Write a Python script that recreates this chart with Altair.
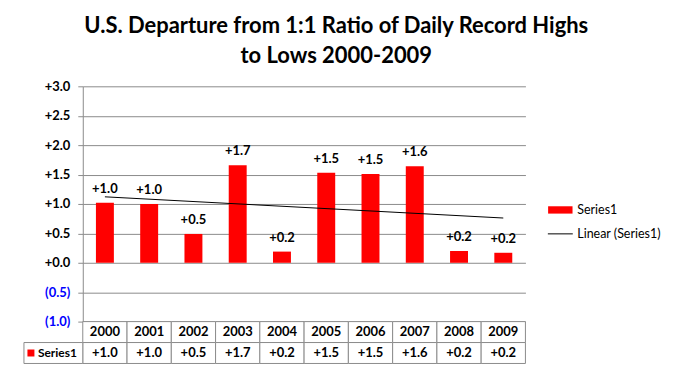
import altair as alt
import pandas as pd

years = ["2000", "2001", "2002", "2003", "2004", "2005", "2006", "2007", "2008", "2009"]
values = [1.02, 1.00, 0.49, 1.66, 0.19, 1.53, 1.51, 1.64, 0.20, 0.17]
series_name = "Series1"
trend_name = "Linear (Series1)"
y_ticks = [-1.0, -0.5, 0.0, 0.5, 1.0, 1.5, 2.0, 2.5, 3.0]
table_rows = ["Year", "Series1"]
title_lines = ["U.S. Departure from 1:1 Ratio of Daily Record Highs", "to Lows 2000-2009"]

FONT = "Lato"
GRID = "#8c8c8c"

df = pd.DataFrame({"year": years, "value": values, "series": series_name, "trend": trend_name})

xscale = alt.Scale(domain=years, paddingInner=0, paddingOuter=0)
x_main = alt.X("year:N", scale=xscale, axis=None)
yscale = alt.Scale(domain=[-1, 3], nice=False, zero=False)

label_expr = ("datum.value < 0 ? '(' + format(-datum.value, '.1f') + ')' "
              ": format(datum.value, '+.1f')")
y_axis = alt.Axis(
    values=y_ticks, labelExpr=label_expr, grid=True, gridColor=GRID,
    domainColor=GRID, tickColor=GRID, tickSize=5, labelFontWeight="bold",
    labelFontSize=13, labelFont=FONT, labelPadding=8, title=None,
    labelOverlap=False, labelBound=False, labelFlush=False,
    labelColor={"condition": {"test": "datum.value < 0", "value": "#0000ff"}, "value": "black"},
)
y_main = alt.Y("value:Q", scale=yscale, axis=y_axis)

base = alt.Chart(df)
bars = base.mark_bar(size=18).encode(
    x=x_main,
    y=y_main,
    fill=alt.Fill("series:N", scale=alt.Scale(domain=[series_name], range=["#ff0000"]),
                  legend=alt.Legend(title=None, orient="none", legendX=466, legendY=111,
                                    symbolType="M-1,-0.3H1V0.3H-1Z", symbolSize=600,
                                    labelFont=FONT, labelFontSize=12.5, labelColor="black")),
)
labels = base.transform_calculate(lbl="format(datum.value, '+.1f')").mark_text(
    baseline="bottom", dy=-7, fontWeight="bold", fontSize=13, font=FONT, color="black"
).encode(x=x_main, y=y_main, text="lbl:N")

trend = base.transform_calculate(yr="toNumber(datum.year)").transform_regression(
    "yr", "value", method="linear"
).transform_filter("datum.yr == floor(datum.yr)").transform_calculate(
    year="toString(datum.yr)", trend=f"'{trend_name}'"
).mark_line(strokeWidth=1).encode(
    x=x_main,
    y=y_main,
    stroke=alt.Stroke("trend:N", scale=alt.Scale(domain=[trend_name], range=["black"]),
                      legend=alt.Legend(title=None, orient="none", legendX=466, legendY=135,
                                        symbolType="stroke", symbolSize=625, symbolStrokeWidth=1,
                                        labelFont=FONT, labelFontSize=12.5, labelColor="black")),
)

main = alt.layer(bars, labels, trend).properties(width=444, height=236)

tdf = pd.DataFrame({
    "year": years * 2,
    "row": ["Year"] * len(years) + ["Series1"] * len(years),
    "txt": years + [f"{v:+.1f}" for v in values],
})
hdf = pd.DataFrame({"row": ["Series1"], "name": [series_name]})

tx = alt.X("year:N", scale=xscale, axis=None)
ty = alt.Y("row:N", scale=alt.Scale(domain=table_rows, paddingInner=0, paddingOuter=0), axis=None)

cells = alt.Chart(tdf).mark_rect(fill="white", stroke=GRID, strokeWidth=1).encode(x=tx, y=ty)
ctext = alt.Chart(tdf).mark_text(fontWeight="bold", fontSize=13, font=FONT, color="black").encode(
    x=tx, y=ty, text="txt:N")
lcell = alt.Chart(hdf).mark_rect(fill="white", stroke=GRID, strokeWidth=1).encode(
    x=alt.value(-59), x2=alt.value(0), y=ty)
lsq = alt.Chart(hdf).mark_square(size=49, color="#ff0000", opacity=1).encode(x=alt.value(-52), y=ty)
ltxt = alt.Chart(hdf).mark_text(align="left", fontSize=12, font=FONT, fontWeight="bold",
                                color="black").encode(x=alt.value(-45), y=ty, text="name:N")

table = alt.layer(cells, ctext, lcell, lsq, ltxt).properties(width=444, height=42)

chart = alt.vconcat(main, table, spacing=0, bounds="flush").properties(
    title=alt.TitleParams(text=title_lines, fontSize=22, font=FONT, fontWeight="bold",
                          anchor="middle", lineHeight=30, offset=12, color="black", dx=-6),
    padding={"left": 15, "top": 7, "right": 5, "bottom": 5},
    background="white",
).configure_view(stroke=None)

chart.save("out.html", embed_options={"renderer": "svg", "actions": False})
